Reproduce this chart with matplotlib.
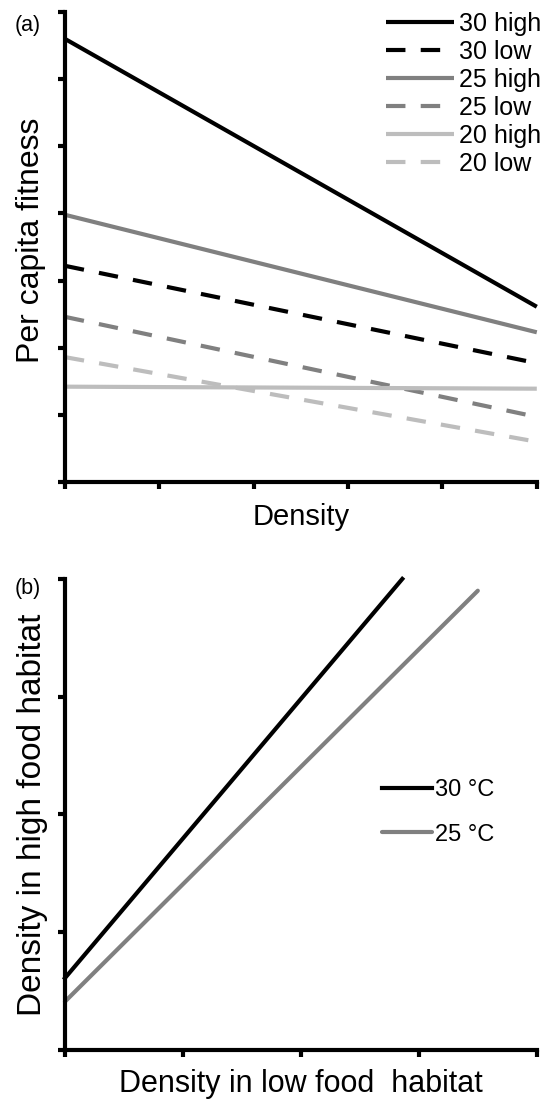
import matplotlib
matplotlib.use("Agg")
import matplotlib.pyplot as plt

plt.rcParams['font.family'] = ['Liberation Sans', 'DejaVu Sans']
plt.rcParams['lines.scale_dashes'] = False

# panel (a): per capita fitness vs density
density = [0, 5]
fit_30_high = [6.60, 2.61]
fit_30_low = [3.22, 1.77]
fit_25_high = [3.98, 2.23]
fit_25_low = [2.46, 0.97]
fit_20_high = [1.42, 1.39]
fit_20_low = [1.86, 0.60]

# panel (b): density in high vs low food habitat
low_dens_30 = [0, 2.86]
high_dens_30 = [0.61, 4.0]
low_dens_25 = [0, 3.50]
high_dens_25 = [0.41, 3.90]

black = "#000000"
mid = "#808080"
light = "#bdbdbd"
lw = 3.0
dash = (14, 11)

fig = plt.figure(figsize=(5.5, 11), dpi=100)
ax1 = fig.add_axes([0.118, 0.5618, 0.858, 0.4273])
ax2 = fig.add_axes([0.118, 0.0455, 0.858, 0.4282])

series = [
    (fit_30_high, black, '-', "30 high"),
    (fit_30_low, black, '--', "30 low"),
    (fit_25_high, mid, '-', "25 high"),
    (fit_25_low, mid, '--', "25 low"),
    (fit_20_high, light, '-', "20 high"),
    (fit_20_low, light, '--', "20 low"),
]
for vals, col, ls, lab in series:
    line, = ax1.plot(density, vals, color=col, lw=lw, label=lab, solid_capstyle='butt')
    if ls == '--':
        line.set_dashes(dash)

ax1.set_xlim(0, 5)
ax1.set_ylim(0, 7)
ax1.set_xticks(range(6))
ax1.set_yticks(range(8))
ax1.legend(loc='upper right', bbox_to_anchor=(1.01, 1.0), frameon=False,
           fontsize=18, handlelength=2.75, handletextpad=0.2, labelspacing=0.16,
           borderpad=0, borderaxespad=0)
ax1.set_xlabel("Density", fontsize=21)
ax1.xaxis.set_label_coords(0.5, -0.045)
ax1.set_ylabel("Per capita fitness", fontsize=23)
ax1.yaxis.set_label_coords(-0.04, 0.515)
fig.text(0.05, 0.977, "(a)", fontsize=15.5, ha='center', va='center')

ax2.plot(low_dens_30, high_dens_30, color=black, lw=lw, label="30 °C")
ax2.plot(low_dens_25, high_dens_25, color=mid, lw=lw, label="25 °C",
         solid_capstyle='round')
ax2.set_xlim(0, 4)
ax2.set_ylim(0, 4)
ax2.set_xticks(range(5))
ax2.set_yticks(range(5))
ax2.legend(loc='upper left', bbox_to_anchor=(0.672, 0.575), frameon=False,
           fontsize=17, handlelength=2.1, handletextpad=0.15, labelspacing=0.95,
           borderpad=0, borderaxespad=0)
ax2.set_xlabel("Density in low food  habitat", fontsize=22)
ax2.xaxis.set_label_coords(0.5, -0.04)
ax2.set_ylabel("Density in high food habitat", fontsize=24)
ax2.yaxis.set_label_coords(-0.035, 0.5)
fig.text(0.05, 0.465, "(b)", fontsize=15.5, ha='center', va='center')

for ax in (ax1, ax2):
    for side in ('top', 'right'):
        ax.spines[side].set_visible(False)
    for side in ('left', 'bottom'):
        ax.spines[side].set_linewidth(3)
    ax.tick_params(direction='out', length=5, width=3, labelbottom=False, labelleft=False)
    for ln in ax.lines:
        ln.set_clip_on(False)

fig.savefig("out.png", dpi=100)
